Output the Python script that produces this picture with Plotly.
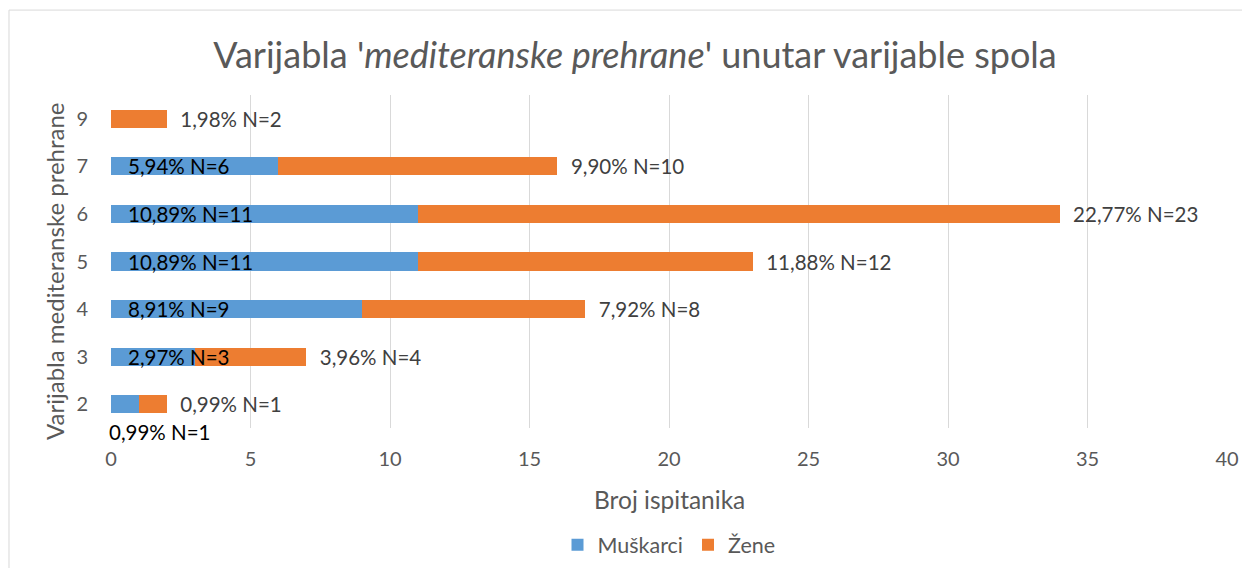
import plotly.graph_objects as go

categories = ["2", "3", "4", "5", "6", "7", "9"]
muskarci = [1, 3, 9, 11, 11, 6, 0]
zene = [1, 4, 8, 12, 23, 10, 2]
x_ticks = [0, 5, 10, 15, 20, 25, 30, 35, 40]

total = sum(muskarci) + sum(zene)

def lab(n):
    return f"{n / total * 100:.2f}".replace(".", ",") + f"% N={n}"

FONT = "Lato"
GREY = "#595959"
LBL = 20.5

fig = go.Figure()
fig.add_trace(go.Bar(
    y=categories, x=muskarci, name="Muškarci", orientation="h",
    marker=dict(color="#5B9BD5", line=dict(width=0)),
))
fig.add_trace(go.Bar(
    y=categories, x=zene, name="Žene", orientation="h",
    marker=dict(color="#ED7D31", line=dict(width=0)),
    text=["  " + lab(v) for v in zene], textposition="outside",
    constraintext="none",
    textfont=dict(family=FONT, size=LBL, color="#404040"),
    cliponaxis=False,
))

annotations = []
for i, (c, v) in enumerate(zip(categories, muskarci)):
    if v == 0:
        continue
    below = (c == "2")
    annotations.append(dict(
        x=0, y=i, xref="x", yref="y", text=lab(v), showarrow=False,
        xanchor="left", yanchor="middle",
        xshift=-4 if below else 15, yshift=-28 if below else 0,
        font=dict(family=FONT, size=LBL, color="#000000"),
    ))

annotations.append(dict(
    x=-0.0502, y=0.4715, xref="paper", yref="paper", xanchor="center", yanchor="middle",
    text="Varijabla mediteranske prehrane", textangle=-90, showarrow=False,
    font=dict(family=FONT, size=24, color=GREY),
))
annotations.append(dict(
    x=0.5, y=-0.216, xref="paper", yref="paper", xanchor="center", yanchor="middle",
    text="Broj ispitanika", showarrow=False,
    font=dict(family=FONT, size=24.5, color=GREY),
))

fig.update_layout(
    width=1250, height=568,
    barmode="stack", bargap=0.62,
    paper_bgcolor="white", plot_bgcolor="white",
    margin=dict(l=103, r=31, t=87, b=148, autoexpand=False),
    title=dict(
        text="Varijabla '<i>mediteranske prehrane</i>' unutar varijable spola",
        x=0.5016, xanchor="center", y=0.917, yanchor="middle",
        font=dict(family=FONT, size=36, color=GREY),
    ),
    xaxis=dict(
        range=[0, 40], tickvals=x_ticks, showgrid=True, gridcolor="#d9d9d9", gridwidth=1.3,
        zeroline=False, showline=False, automargin=False,
        tickfont=dict(family=FONT, size=20, color=GREY), ticklabelstandoff=17,
    ),
    yaxis=dict(
        type="category", categoryorder="array", categoryarray=categories,
        range=[-0.5, len(categories) - 0.5], autorange=False,
        showgrid=False, zeroline=False, showline=False, automargin=False,
        tickfont=dict(family=FONT, size=20, color=GREY), ticklabelstandoff=22,
    ),
    legend=dict(
        orientation="h", x=0.5, xanchor="center", y=-0.351, yanchor="middle",
        font=dict(family=FONT, size=21.5, color=GREY), traceorder="normal",
    ),
    annotations=annotations,
    shapes=[dict(
        type="rect", xref="paper", yref="paper",
        x0=-0.0914, x1=1.2, y0=-0.6, y1=1.255,
        line=dict(color="#d9d9d9", width=1), fillcolor="rgba(0,0,0,0)", layer="below",
    )],
)

fig.write_html("out.html")
